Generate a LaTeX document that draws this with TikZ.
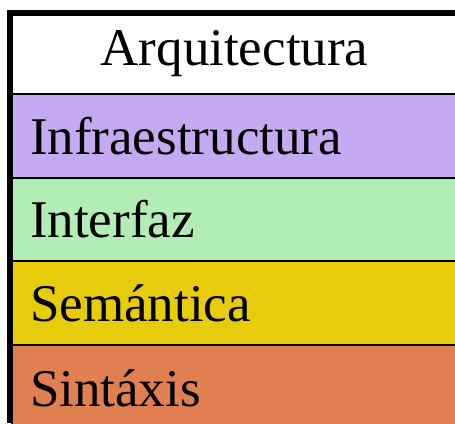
\documentclass[tikz,border=0pt]{standalone}
\usepackage{fontspec}
\setmainfont{Liberation Serif}
\definecolor{infracol}{HTML}{C5AAF2}
\definecolor{interfazcol}{HTML}{B2EDB5}
\definecolor{semcol}{HTML}{E6CC0A}
\definecolor{sintcol}{HTML}{E07F50}
\begin{document}
\begin{tikzpicture}[x=1pt,y=-1pt,
  row/.style={draw, line width=1.5pt, minimum width=445pt, text width=409pt,
    align=left, inner xsep=18pt, font=\fontsize{53}{60}\selectfont}]
\useasboundingbox (0,0) rectangle (455,423);
\clip (0,0) rectangle (455,423);
\node[row, fill=white, minimum height=81.5pt, align=center] (arq) at (234.5,53.25) {Arquitectura};
\node[row, fill=infracol, minimum height=84pt] (infra) at (234.5,136) {Infraestructura};
\node[row, fill=interfazcol, minimum height=83.5pt] (interfaz) at (234.5,219.5) {Interfaz};
\node[row, fill=semcol, minimum height=84pt] (sem) at (234.5,303) {Semántica};
\node[row, fill=sintcol, minimum height=86pt] (sint) at (234.5,388) {Sintáxis};

\draw[line width=6pt] (10,423) -- (10,12.5) -- (455,12.5);
\end{tikzpicture}
\end{document}
